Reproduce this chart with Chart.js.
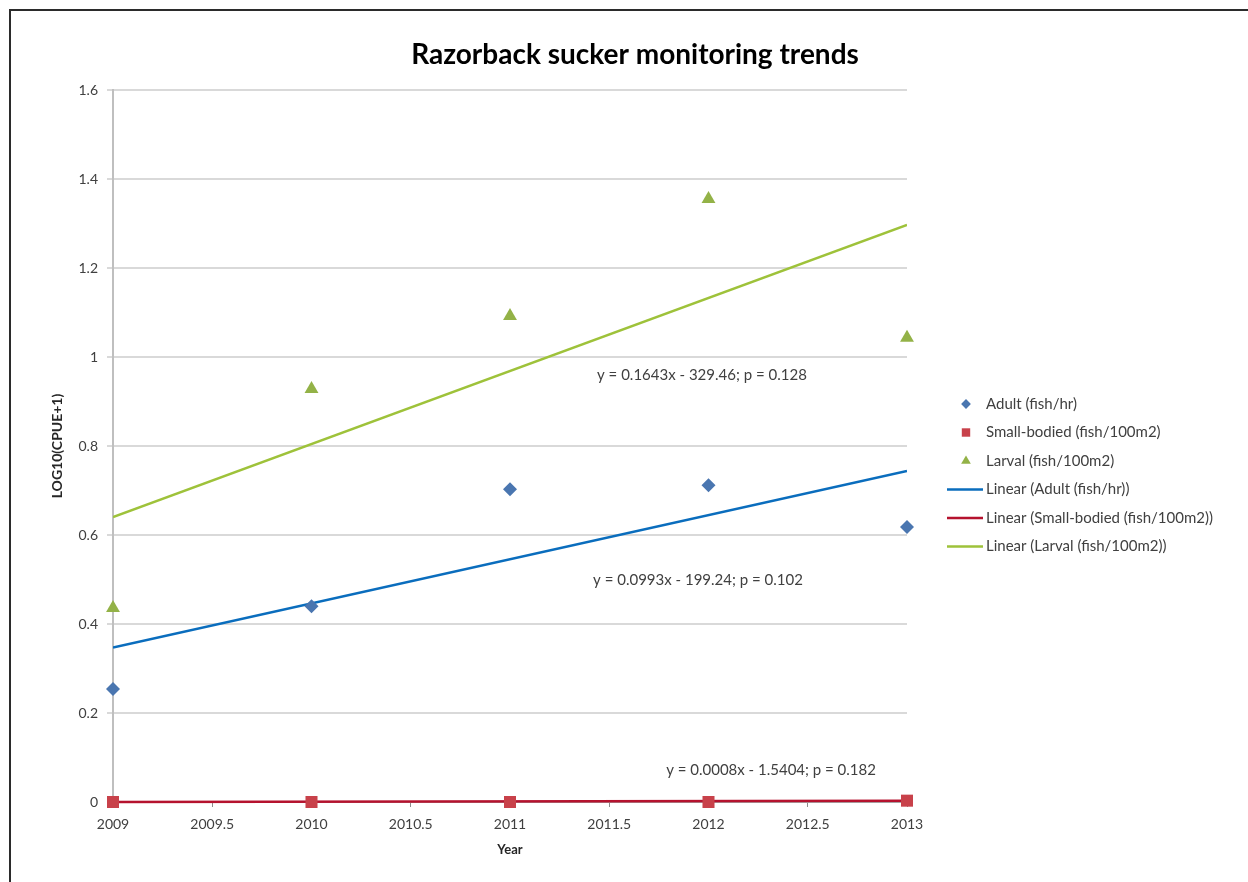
<!DOCTYPE html>
<html>
<head>
<meta charset="utf-8">
<script src="https://cdn.jsdelivr.net/npm/chart.js@4.4.1/dist/chart.umd.min.js"></script>
<style>
  body { margin: 0; background: #fff; }
  #wrap { position: absolute; left: 0; top: 0; width: 1248px; height: 882px; }
</style>
</head>
<body>
<div id="wrap"><canvas id="trendChart" width="1248" height="882"></canvas></div>
<script>
// Data
const years = [2009, 2010, 2011, 2012, 2013];
const adult = [0.254, 0.44, 0.703, 0.712, 0.618];
const smallBodied = [0, 0, 0, 0, 0.003];
const larval = [0.436, 0.928, 1.092, 1.355, 1.043];

// Excel trendline end points (2009 and 2013)
const trendYears = [2009, 2013];
const adultTrend = [0.347, 0.744];
const smallTrend = [0.0, 0.003];
const larvalTrend = [0.64, 1.297];

const xTickLabels = ["2009", "2009.5", "2010", "2010.5", "2011", "2011.5", "2012", "2012.5", "2013"];
const yTickLabels = ["0", "0.2", "0.4", "0.6", "0.8", "1", "1.2", "1.4", "1.6"];
const chartTitle = "Razorback sucker monitoring trends";
const equations = [
  "y = 0.1643x - 329.46; p = 0.128",
  "y = 0.0993x - 199.24; p = 0.102",
  "y = 0.0008x - 1.5404; p = 0.182",
];

const FONT = "Lato, 'Open Sans', sans-serif";
Chart.defaults.font.family = FONT;
Chart.defaults.color = "#595959";

function pairs(xs, ys) {
  return xs.map((x, i) => ({ x: x, y: ys[i] }));
}

// frame lines (top + left) and the title, centred on the whole figure
const framePlugin = {
  id: "frame",
  afterDraw(chart) {
    const ctx = chart.ctx;
    ctx.save();
    ctx.strokeStyle = "#2b2b2b";
    ctx.lineWidth = 2;
    ctx.beginPath();
    ctx.moveTo(1248, 10);
    ctx.lineTo(10, 10);
    ctx.lineTo(10, 882);
    ctx.stroke();
    ctx.font = "bold 28px " + FONT;
    ctx.fillStyle = "#000";
    ctx.textAlign = "center";
    ctx.textBaseline = "middle";
    ctx.fillText(chartTitle, 635, 55);
    ctx.restore();
  },
};

// trendline equations, anchored in data units
const equationPlugin = {
  id: "equations",
  afterDatasetsDraw(chart) {
    const ctx = chart.ctx;
    const xs = chart.scales.x;
    const ys = chart.scales.y;
    const anchors = [
      [2011.967, 0.96],
      [2011.947, 0.499],
      [2012.315, 0.072],
    ];
    ctx.save();
    ctx.font = "15px " + FONT;
    ctx.fillStyle = "#404040";
    ctx.textAlign = "center";
    ctx.textBaseline = "middle";
    equations.forEach((txt, i) => {
      ctx.fillText(txt, xs.getPixelForValue(anchors[i][0]), ys.getPixelForValue(anchors[i][1]));
    });
    ctx.restore();
  },
};

// legend on the right, Excel style
const legendPlugin = {
  id: "sideLegend",
  afterDraw(chart) {
    const ctx = chart.ctx;
    const top = 404;
    const step = 28.5;
    ctx.save();
    ctx.font = "15px " + FONT;
    ctx.textBaseline = "middle";
    chart.data.datasets.forEach((ds, i) => {
      const y = top + i * step;
      if (ds.showLine) {
        ctx.strokeStyle = ds.borderColor;
        ctx.lineWidth = ds.borderWidth;
        ctx.beginPath();
        ctx.moveTo(947, y);
        ctx.lineTo(983, y);
        ctx.stroke();
      } else {
        ctx.fillStyle = ds.backgroundColor;
        Chart.helpers.drawPoint(ctx, {
          pointStyle: ds.pointStyle,
          radius: ds.pointRadius * 0.7,
          borderWidth: 0,
        }, 966, y);
      }
      ctx.fillStyle = "#404040";
      ctx.fillText(ds.label, 986, y);
    });
    ctx.restore();
  },
};

const ctx = document.getElementById("trendChart");
new Chart(ctx, {
  type: "scatter",
  data: {
    datasets: [
      {
        label: "Adult (fish/hr)",
        data: pairs(years, adult),
        pointStyle: "rectRot",
        pointRadius: 7,
        backgroundColor: "#4a76b0",
        borderColor: "#4a76b0",
        borderWidth: 0,
        showLine: false,
        clip: false,
      },
      {
        label: "Small-bodied (fish/100m2)",
        data: pairs(years, smallBodied),
        pointStyle: "rect",
        pointRadius: 8.5,
        backgroundColor: "#c8414a",
        borderColor: "#c8414a",
        borderWidth: 0,
        showLine: false,
        clip: false,
      },
      {
        label: "Larval (fish/100m2)",
        data: pairs(years, larval),
        pointStyle: "triangle",
        pointRadius: 8,
        backgroundColor: "#93b247",
        borderColor: "#93b247",
        borderWidth: 0,
        showLine: false,
        clip: false,
      },
      {
        label: "Linear (Adult (fish/hr))",
        data: pairs(trendYears, adultTrend),
        showLine: true,
        pointRadius: 0,
        borderColor: "#0a6dbd",
        borderWidth: 2.5,
      },
      {
        label: "Linear (Small-bodied (fish/100m2))",
        data: pairs(trendYears, smallTrend),
        showLine: true,
        pointRadius: 0,
        borderColor: "#b5122e",
        borderWidth: 2.5,
        clip: false,
      },
      {
        label: "Linear (Larval (fish/100m2))",
        data: pairs(trendYears, larvalTrend),
        showLine: true,
        pointRadius: 0,
        borderColor: "#9ec23a",
        borderWidth: 2.5,
      },
    ],
  },
  options: {
    responsive: false,
    animation: false,
    layout: {
      padding: { left: 45, right: 341, top: 90, bottom: 20 },
    },
    plugins: {
      legend: { display: false },
      tooltip: { enabled: false },
      title: { display: false },
    },
    scales: {
      x: {
        type: "linear",
        min: 2009,
        max: 2013,
        afterFit(scale) { scale.height = 60; },
        ticks: {
          stepSize: 0.5,
          padding: 9,
          color: "#404040",
          font: { size: 14 },
          maxRotation: 0,
          callback: function (value, index) {
            return xTickLabels[index];
          },
        },
        grid: {
          drawOnChartArea: false,
          drawTicks: true,
          tickLength: 5,
          color: "#8c8c8c",
        },
        border: { color: "#a6a6a6" },
        title: {
          display: true,
          text: "Year",
          color: "#262626",
          font: { size: 13, weight: "bold" },
          padding: { top: 0 },
        },
      },
      y: {
        min: 0,
        max: 1.6,
        afterFit(scale) { scale.width = 68; },
        ticks: {
          stepSize: 0.2,
          padding: 9,
          color: "#404040",
          font: { size: 14 },
          callback: function (value, index) {
            return yTickLabels[index];
          },
        },
        grid: {
          color: "#d9d9d9",
          lineWidth: 2,
          tickLength: 6,
        },
        border: { color: "#bfbfbf", width: 2 },
        title: {
          display: true,
          text: "LOG10(CPUE+1)",
          color: "#262626",
          font: { size: 14, weight: "bold" },
        },
      },
    },
  },
  plugins: [framePlugin, equationPlugin, legendPlugin],
});
</script>
</body>
</html>
